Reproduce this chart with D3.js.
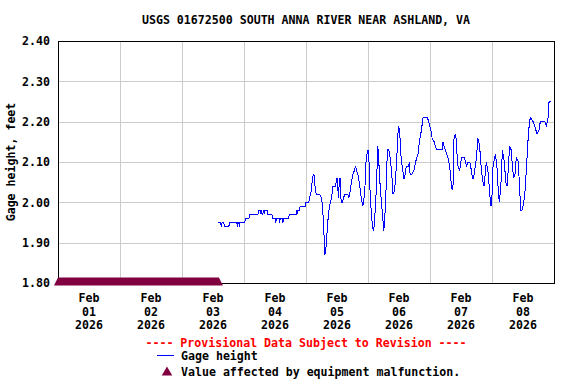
<!DOCTYPE html>
<html>
<head>
<meta charset="utf-8">
<script src="https://cdn.jsdelivr.net/npm/d3@7"></script>
<style>
  body { margin: 0; background: #fff; }
  svg { display: block; font-family: "DejaVu Sans Mono", monospace; font-weight: bold; }
</style>
</head>
<body>
<svg id="chart" width="576" height="384"></svg>
<script>
// Chart text
const title = "USGS 01672500 SOUTH ANNA RIVER NEAR ASHLAND, VA";
const yLabel = "Gage height, feet";
const provisionalNote = "---- Provisional Data Subject to Revision ----";
const seriesName = "Gage height";
const malfunctionNote = "Value affected by equipment malfunction.";

// Axes
const yTicks = [1.80, 1.90, 2.00, 2.10, 2.20, 2.30, 2.40];
const startDay = new Date(Date.UTC(2026, 1, 1));
const endDay = new Date(Date.UTC(2026, 1, 9));

// Flagged period (hours after Feb 01 00:00), drawn as markers on the bottom axis
const malfunctionHours = [0, 62.3];

// Gage height readings: [hours after Feb 01 00:00, feet]
const gage = [
  [62.0,1.95],[63.0,1.95],[63.2,1.94],[63.5,1.95],[64.1,1.95],[64.5,1.94],[66.1,1.94],[66.5,1.95],
  [69.2,1.95],[69.4,1.94],[69.6,1.95],[70.0,1.95],[70.2,1.94],[70.4,1.95],[72.3,1.95],[72.5,1.96],
  [73.9,1.96],[74.1,1.97],[77.4,1.97],[77.6,1.98],[78.3,1.98],[78.4,1.97],[78.6,1.98],[78.8,1.98],
  [79.0,1.97],[79.3,1.97],[79.5,1.98],[79.8,1.98],[79.9,1.97],[80.1,1.98],[80.9,1.98],[81.1,1.97],
  [82.8,1.97],[83.0,1.96],[84.2,1.96],[84.3,1.95],[84.5,1.96],[85.7,1.96],[85.8,1.95],[86.0,1.96],
  [87.0,1.96],[87.1,1.95],[87.3,1.96],[89.3,1.96],[89.5,1.97],[92.3,1.97],[92.4,1.98],[92.6,1.97],
  [92.8,1.98],[93.5,1.98],[93.7,1.99],[95.7,1.99],[95.9,2.00],[97.1,2.00],
  [97.3,2.01],[97.7,2.02],[98.1,2.03],[98.5,2.06],[99.0,2.07],[99.3,2.06],[99.6,2.03],[100.0,2.02],
  [101.3,2.02],[102.0,2.01],[102.4,1.99],[102.9,1.93],[103.3,1.87],[103.6,1.88],[103.9,1.90],
  [104.4,1.95],[104.9,1.98],[105.4,2.00],[105.9,2.01],[106.4,2.04],[107.5,2.04],[107.8,2.06],
  [108.2,2.06],[108.5,2.01],[109.0,2.06],[109.3,2.06],[109.6,2.00],[110.1,2.00],[110.5,2.01],
  [111.0,2.02],[112.2,2.02],[112.5,2.01],[112.9,2.02],[113.6,2.05],[114.2,2.07],[114.8,2.08],
  [115.2,2.09],[115.5,2.08],[116.1,2.07],[116.8,2.04],[117.4,2.01],[118.0,1.99],[118.7,2.02],
  [119.3,2.11],[120.0,2.13],[120.4,2.10],[120.9,2.01],[121.7,1.94],[122.2,1.93],[122.6,1.96],
  [123.2,2.03],[123.8,2.14],[124.1,2.11],[124.8,2.03],[125.6,1.97],[126.1,1.93],[126.5,1.96],
  [127.1,2.05],[127.5,2.13],[128.0,2.13],
  [128.4,2.12],[129.1,2.08],[129.7,2.02],[130.3,2.03],[131.0,2.09],[131.6,2.17],[131.9,2.19],
  [132.3,2.17],[132.7,2.12],[133.2,2.09],[133.9,2.06],[134.2,2.06],[134.5,2.08],[135.0,2.09],
  [135.8,2.09],[136.0,2.10],[136.3,2.07],[137.0,2.07],[137.8,2.08],[138.4,2.10],[139.4,2.12],
  [139.9,2.15],[140.7,2.18],[141.3,2.21],[143.0,2.21],[143.5,2.20],[144.3,2.18],[144.8,2.16],
  [145.6,2.15],[146.1,2.14],[146.6,2.13],[148.7,2.13],[149.0,2.15],[149.4,2.14],[150.4,2.12],
  [151.0,2.11],[151.6,2.09],[152.3,2.04],[152.7,2.03],[153.0,2.05],[153.3,2.16],[154.0,2.17],
  [154.2,2.14],[154.8,2.09],[155.5,2.08],[156.2,2.11],[157.4,2.11],[158.1,2.09],[158.7,2.10],
  [159.4,2.10],[160.0,2.08],[160.4,2.06],[160.9,2.06],[161.3,2.08],[162.0,2.11],[162.5,2.16],
  [163.2,2.14],[163.9,2.08],[164.5,2.05],[164.9,2.04],[165.5,2.08],[165.8,2.10],[166.6,2.07],
  [167.1,2.02],[167.6,1.99],[167.9,2.00],[168.4,2.09],[169.3,2.12],[169.9,2.09],[170.5,2.02],
  [170.9,2.00],[171.6,2.06],[172.0,2.13],[172.8,2.10],[173.3,2.05],[173.8,2.04],[174.3,2.08],
  [174.8,2.14],[175.4,2.13],[175.9,2.09],[176.4,2.06],[176.9,2.07],[177.4,2.11],[178.2,2.10],
  [178.7,2.03],[179.2,1.98],[179.6,1.98],[180.0,1.99],[180.7,2.02],[181.3,2.08],[181.9,2.15],
  [182.5,2.20],[182.9,2.21],[183.9,2.20],[184.5,2.19],[185.4,2.17],[186.2,2.18],[186.7,2.20],
  [188.4,2.20],[189.1,2.19],[189.7,2.21],[190.1,2.25],[191.0,2.25]
];

// Layout
const width = 576, height = 384;
const margin = { top: 41, right: 22, bottom: 101, left: 58 };
const innerWidth = width - margin.left - margin.right;
const innerHeight = height - margin.top - margin.bottom;

const lineColor = "#0000ff";
const flagColor = "#800040";
const gridColor = "#cccccc";
const fontSize = 11.6;

const hourToDate = h => new Date(startDay.getTime() + h * 3600e3);

const xScale = d3.scaleUtc()
  .domain([startDay, endDay])
  .range([0, innerWidth]);

const yScale = d3.scaleLinear()
  .domain([yTicks[0], yTicks[yTicks.length - 1]])
  .range([innerHeight, 0]);

const svg = d3.select("#chart");

const innerChart = svg.append("g")
  .attr("transform", `translate(${margin.left}, ${margin.top})`);

// grid
innerChart.append("g")
  .selectAll("line")
  .data(yTicks)
  .join("line")
    .attr("x1", 0).attr("x2", innerWidth)
    .attr("y1", d => Math.round(yScale(d)) + 0.5)
    .attr("y2", d => Math.round(yScale(d)) + 0.5)
    .attr("stroke", gridColor);

const days = d3.utcDay.range(startDay, endDay);
innerChart.append("g")
  .selectAll("line")
  .data(days)
  .join("line")
    .attr("x1", d => Math.round(xScale(d)) + 0.5)
    .attr("x2", d => Math.round(xScale(d)) + 0.5)
    .attr("y1", 0).attr("y2", innerHeight)
    .attr("stroke", gridColor);

// gage line
const line = d3.line()
  .x(d => xScale(hourToDate(d[0])))
  .y(d => yScale(d[1]));

innerChart.append("path")
  .datum(gage)
  .attr("d", line)
  .attr("fill", "none")
  .attr("stroke", lineColor)
  .attr("stroke-width", 1)
  .attr("shape-rendering", "crispEdges");

// frame
innerChart.append("rect")
  .attr("x", 0.5).attr("y", 0.5)
  .attr("width", innerWidth).attr("height", innerHeight)
  .attr("fill", "none")
  .attr("stroke", "#000");

// malfunction markers: a dense row of triangles that merges into a band
const triHalf = 4, triUp = 5.5, triDown = 2.5;
const fx0 = xScale(hourToDate(malfunctionHours[0]));
const fx1 = xScale(hourToDate(malfunctionHours[1]));
const fy = yScale(yTicks[0]);
innerChart.append("path")
  .attr("d", `M${fx0 - triHalf},${fy + triDown}L${fx0},${fy - triUp}L${fx1},${fy - triUp}L${fx1 + triHalf},${fy + triDown}Z`)
  .attr("fill", flagColor);

// y axis labels
const leftAxis = d3.axisLeft(yScale)
  .tickValues(yTicks)
  .tickFormat(d3.format(".2f"))
  .tickSize(0)
  .tickPadding(8);
innerChart.append("g")
  .call(leftAxis)
  .call(g => g.select(".domain").remove())
  .selectAll("text")
    .attr("font-family", "DejaVu Sans Mono")
    .attr("font-weight", "bold")
    .attr("font-size", fontSize)
    .attr("fill", "#000");

// x axis labels (centred on each day, three lines)
const fmtParts = [d3.utcFormat("%b"), d3.utcFormat("%d"), d3.utcFormat("%Y")];
fmtParts.forEach((fmt, i) => {
  innerChart.append("g")
    .selectAll("text")
    .data(days)
    .join("text")
      .attr("text-anchor", "middle")
      .attr("font-size", fontSize)
      .attr("x", d => xScale(d3.utcHour.offset(d, 12)))
      .attr("y", innerHeight + 19 + i * 13.5)
      .text(d => fmt(d));
});

// title
svg.append("text")
  .text(title)
  .attr("x", margin.left + innerWidth / 2)
  .attr("y", 24)
  .attr("text-anchor", "middle")
  .attr("font-size", fontSize);

// y label
svg.append("text")
  .text(yLabel)
  .attr("transform", `translate(15, ${margin.top + innerHeight / 2}) rotate(-90)`)
  .attr("text-anchor", "middle")
  .attr("font-size", fontSize);

// legend
svg.append("text")
  .text(provisionalNote)
  .attr("x", margin.left + innerWidth / 2)
  .attr("y", 347)
  .attr("text-anchor", "middle")
  .attr("font-size", fontSize)
  .attr("fill", "#ff0000");

svg.append("line")
  .attr("x1", 157).attr("x2", 174)
  .attr("y1", 355.5).attr("y2", 355.5)
  .attr("stroke", lineColor);
svg.append("text")
  .text(seriesName)
  .attr("x", 181).attr("y", 360)
  .attr("font-size", fontSize);

svg.append("path")
  .attr("d", d3.symbol(d3.symbolTriangle, 48))
  .attr("transform", "translate(167, 372.5)")
  .attr("fill", flagColor);
svg.append("text")
  .text(malfunctionNote)
  .attr("x", 181).attr("y", 376)
  .attr("font-size", fontSize);
</script>
</body>
</html>
